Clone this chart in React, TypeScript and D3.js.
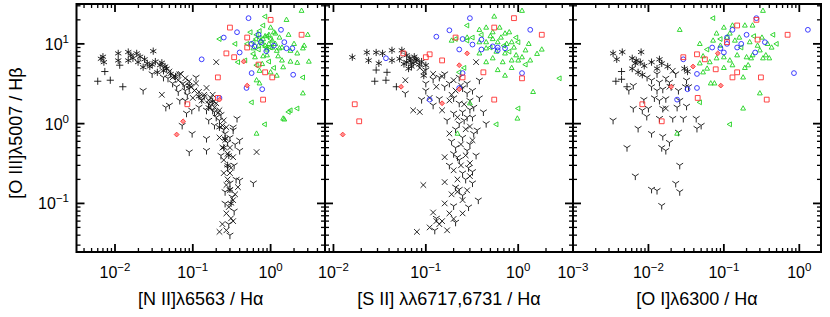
import * as d3 from 'd3';

type Pt = [number, number];

// shared y axis: [O III]5007 / Hbeta
const yDomain: [number, number] = [0.0246, 31.6];

// ---- panel 1: [N II] / Halpha ----
const n2Star: Pt[] = [[0.0066,6.5],[0.0072,5.9],[0.007,6.9],[0.011,7.6],[0.0148,7.9],[0.019,7.6],[0.011,6.2],[0.0148,6.2],[0.0198,5.9],[0.026,5.7],[0.031,8.1],[0.023,5.1],[0.038,5.4],[0.035,4.4],[0.046,4.9],[0.017,6.6],[0.021,6.9],[0.028,5.2],[0.042,4.6],[0.052,4.2],[0.06,3.9],[0.04,5.8],[0.033,6.0],[0.25,0.5],[0.28,0.3],[0.3,0.15],[0.22,0.9],[0.18,1.9],[0.12,2.2],[0.16,1.6],[0.26,0.65],[0.29,0.4],[0.31,0.1],[0.09,3.0],[0.016,7.2],[0.024,6.4],[0.03,5.5],[0.044,5.2]];
const n2Plus: Pt[] = [[0.006,3.4],[0.0087,3.5],[0.0126,2.9],[0.0074,4.5],[0.0115,5.4]];
const n2Cross: Pt[] = [[0.2,5.9],[0.04,2.3],[0.66,0.44],[0.055,3.8],[0.08,3.7],[0.11,3.2],[0.15,2.8],[0.13,1.95],[0.2,1.8],[0.22,1.47],[0.16,1.95],[0.12,2.5],[0.18,2.3],[0.1,2.1],[0.25,1.1],[0.22,0.044],[0.27,0.046],[0.33,0.06],[0.27,0.075],[0.29,0.09],[0.33,0.11],[0.38,0.16],[0.3,0.146],[0.25,0.24],[0.3,0.24],[0.25,0.35],[0.33,0.38],[0.24,0.5],[0.3,0.5],[0.22,0.67],[0.27,0.9],[0.07,4.2],[0.09,3.4],[0.28,0.2],[0.35,0.13],[0.05,4.5],[0.065,3.5],[0.095,2.9],[0.105,2.6],[0.14,2.3],[0.17,2.1],[0.19,1.6],[0.21,1.35],[0.24,0.95],[0.26,0.62],[0.28,0.42],[0.31,0.28],[0.27,0.17],[0.31,0.065],[0.24,0.055]];
const n2Tri: Pt[] = [[0.023,2.6],[0.05,1.7],[0.073,0.95],[0.098,0.75],[0.15,0.65],[0.09,0.44],[0.15,0.46],[0.37,1.16],[0.33,0.9],[0.6,0.18],[0.068,4.2],[0.062,2.9],[0.08,2.6],[0.12,1.6],[0.15,1.47],[0.2,1.2],[0.083,1.35],[0.097,1.47],[0.068,1.95],[0.08,1.95],[0.3,0.04],[0.4,0.195],[0.4,0.46],[0.3,0.67],[0.33,0.83],[0.4,0.62],[0.048,3.7],[0.042,3.8],[0.055,3.2],[0.075,3.2],[0.11,3.8],[0.18,1.47],[0.14,2.2],[0.17,1.7],[0.23,1.3],[0.26,0.75],[0.35,0.55],[0.28,0.28],[0.36,0.2],[0.32,0.12],[0.26,0.1],[0.045,1.6],[0.03,4.2],[0.085,2.3],[0.065,2.5],[0.16,1.1],[0.19,0.95],[0.058,4.0],[0.078,3.0],[0.09,2.75],[0.13,2.0],[0.16,1.8],[0.19,1.4],[0.22,1.1],[0.25,0.85],[0.28,0.58],[0.23,0.4],[0.34,0.3],[0.3,0.18],[0.26,0.14],[0.34,0.08],[0.29,0.055]];
const n2Square: Pt[] = [[0.3,16],[0.27,7.6],[0.34,6.8],[0.5,9],[0.5,12],[1.0,20],[0.7,5.5],[0.85,4.4],[1.05,3.8],[0.8,2.0],[0.21,3.8],[0.21,2.1],[2.5,13],[0.085,1.75]];
const n2Diamond: Pt[] = [[0.062,0.73],[0.075,1.07],[0.5,3.0],[0.45,6.0],[0.22,2.0]];
const n2Circle: Pt[] = [[0.13,6.4],[0.25,12],[0.37,14],[0.4,7.8],[0.52,21],[0.57,10],[0.62,9.3],[0.7,13],[0.57,4.3],[0.49,2.8],[0.78,2.7],[1.36,15],[1.5,10.5],[1.6,8.8],[1.9,8.8],[1.95,4.1],[0.22,2.1],[0.88,8.1],[0.75,10.5],[1.1,9.5]];
const n2TriUp: Pt[] = [[1.6,20],[2.5,26],[1.0,16],[1.1,14],[0.8,11.5],[1.05,11],[0.63,6.8],[0.78,5.6],[0.9,7.2],[1.2,8.2],[1.4,9],[1.8,8.2],[2.6,8.8],[1.4,6.2],[1.8,6.0],[2.2,5.8],[3.1,6],[1.45,5.1],[0.72,4.6],[1.0,4.4],[1.2,4.0],[0.66,3.5],[0.72,3.2],[2.6,2.4],[1.45,1.16],[1.5,1.13],[0.66,0.75],[2.2,7.6],[1.3,12],[0.95,13],[1.15,10],[0.85,9.5],[1.25,7.0],[2.0,10],[2.7,9.5],[1.7,13],[3.0,13],[0.75,11],[0.85,12.5],[0.95,10],[1.05,9],[0.7,9.5],[0.9,8.5],[1.3,8.8],[1.15,13.5],[0.6,8.8],[0.8,7.0]];
const n2TriLeft: Pt[] = [[0.85,22],[0.8,17],[0.55,14],[0.66,13],[0.72,12],[0.6,10.5],[0.5,10],[0.35,10],[0.22,11.5],[0.38,5.9],[0.47,6.2],[0.66,5.4],[0.57,1.85],[1.8,1.47],[2.2,1.55],[2.6,3.8],[1.7,1.4],[0.84,0.98],[0.9,12.5],[0.7,8.5],[1.0,9.0],[0.95,6.0],[0.6,7.5],[1.1,5.0],[0.65,11.5],[0.78,10],[1.0,11.5],[0.72,14.5],[0.88,9]];

// ---- panel 2: [S II] / Halpha ----
const s2Star: Pt[] = [[0.016,6.8],[0.023,7.8],[0.029,7.8],[0.034,7.6],[0.043,8.3],[0.055,8.3],[0.024,6.2],[0.031,5.7],[0.043,6.2],[0.062,5.9],[0.067,6.6],[0.073,5.7],[0.08,6.2],[0.062,7.2],[0.07,5.2],[0.075,6.9],[0.085,5.5],[0.052,6.5],[0.058,5.6],[0.09,6.0],[0.065,4.9],[0.1,5.4],[0.095,4.0],[0.078,6.4],[0.068,6.1]];
const s2Plus: Pt[] = [[0.029,4.7],[0.038,4.4],[0.028,3.4],[0.037,3.5],[0.048,2.9]];
const s2Cross: Pt[] = [[0.06,3.5],[0.073,1.47],[0.086,1.4],[0.094,0.17],[0.12,0.077],[0.08,0.044],[0.13,0.06],[0.17,0.046],[0.25,0.075],[0.35,5.9],[0.086,5.0],[0.12,4.2],[0.2,3.5],[0.13,2.9],[0.21,2.6],[0.11,2.1],[0.18,1.95],[0.15,1.47],[0.3,0.92],[0.18,0.75],[0.32,0.62],[0.16,0.38],[0.3,0.32],[0.2,0.26],[0.16,0.185],[0.28,0.146],[0.19,0.13],[0.16,0.1],[0.15,0.06],[0.2,0.064],[0.14,0.055],[0.22,0.2],[0.25,0.11],[0.095,4.5],[0.15,3.9],[0.24,3.0],[0.19,2.3],[0.26,1.75],[0.22,1.2],[0.27,0.85],[0.24,0.55],[0.27,0.4],[0.24,0.3],[0.3,0.22],[0.22,0.14],[0.18,0.075],[0.11,0.05]];
const s2Tri: Pt[] = [[0.1,4.7],[0.14,3.8],[0.16,4.2],[0.23,3.8],[0.28,3.2],[0.1,3.2],[0.16,2.9],[0.28,2.4],[0.32,2.6],[0.14,2.05],[0.23,1.8],[0.3,1.95],[0.38,2.1],[0.2,1.35],[0.25,1.4],[0.32,1.2],[0.38,3.5],[0.23,1.0],[0.36,0.83],[0.25,0.67],[0.21,0.5],[0.28,0.46],[0.23,0.35],[0.25,0.24],[0.21,0.16],[0.32,0.18],[0.25,0.126],[0.37,0.11],[0.2,0.093],[0.125,0.046],[0.12,1.7],[0.17,1.1],[0.26,1.1],[0.33,0.75],[0.19,0.6],[0.35,0.4],[0.29,0.28],[0.22,0.38],[0.27,0.2],[0.18,0.3],[0.1,2.6],[0.06,2.4],[0.09,2.0],[0.42,1.4],[0.45,1.0],[0.3,1.5],[0.12,3.6],[0.18,3.2],[0.25,2.8],[0.2,2.1],[0.33,1.6],[0.28,1.2],[0.21,0.85],[0.3,0.55],[0.2,0.42],[0.32,0.25],[0.23,0.15],[0.29,0.09],[0.13,0.065],[0.21,0.058]];
const s2Square: Pt[] = [[0.017,1.75],[0.019,1.07],[0.057,7.6],[0.11,7.4],[0.1,6.8],[0.15,6.2],[0.21,12],[0.25,3.8],[0.42,4.4],[0.55,16],[0.9,21],[1.1,3.7],[0.55,2.0],[1.8,13]];
const s2Diamond: Pt[] = [[0.0126,0.73],[0.054,2.9],[0.28,7.6],[0.15,1.8],[0.23,5.4],[0.23,2.7]];
const s2Circle: Pt[] = [[0.037,6.6],[0.13,12.3],[0.18,14.8],[0.3,21],[0.25,11.5],[0.23,8.5],[0.32,9.8],[0.4,8.5],[0.53,9.3],[0.6,9],[0.72,8.8],[0.4,11.3],[1.35,15],[1.1,4.3],[0.25,4.3],[0.23,2.8],[0.11,2.0],[0.6,8.3]];
const s2TriUp: Pt[] = [[1.1,26],[0.55,22],[0.38,15],[0.45,16],[0.53,14],[0.63,16],[0.72,13.5],[0.8,14],[0.19,11],[0.38,10.5],[0.45,10.5],[0.53,11.5],[0.6,10.5],[0.75,10],[0.85,10.5],[1.2,8.3],[0.45,8.8],[0.58,8],[0.72,7.6],[0.95,7.2],[1.1,6.8],[0.38,7.6],[0.45,5.9],[0.53,6.6],[0.68,5.9],[0.85,6.2],[1.0,6.2],[0.6,4.7],[0.85,5.0],[0.72,4.0],[1.35,6.2],[1.45,2.5],[0.98,1.16],[0.3,1.8],[0.22,0.75],[1.6,7.5],[0.5,12.5],[0.65,12],[0.9,9],[1.3,10],[1.8,8.5],[0.28,12]];
const s2TriLeft: Pt[] = [[0.28,17],[0.21,11.5],[0.28,11],[0.32,12],[1.0,10.5],[2.8,3.7],[1.0,1.55],[0.58,0.98],[0.26,5.0],[0.23,4.4],[0.7,9.5],[0.5,9.0],[0.4,13],[0.95,12],[1.2,5.5],[0.8,8.0]];

// ---- panel 3: [O I] / Halpha ----
const o1Star: Pt[] = [[0.0034,7.6],[0.0045,7.9],[0.008,7.9],[0.0038,6.4],[0.0061,6.6],[0.0067,5.7],[0.0078,5.9],[0.0073,4.4],[0.0083,4.1],[0.011,5.9],[0.014,6.4],[0.015,5.7],[0.013,4.9],[0.018,5.2],[0.03,4.9],[0.033,4.5],[0.0061,4.9],[0.0069,6.2],[0.0088,5.3]];
const o1Plus: Pt[] = [[0.0044,4.5],[0.0037,3.4],[0.0044,3.6],[0.0052,2.9]];
const o1Cross: Pt[] = [[0.019,2.9],[0.017,1.55],[0.021,4.6]];
const o1Tri: Pt[] = [[0.0055,2.6],[0.0063,3.0],[0.0034,1.1],[0.0063,1.55],[0.01,1.55],[0.0087,2.0],[0.0095,1.23],[0.0073,0.87],[0.011,0.75],[0.0052,0.5],[0.0155,0.69],[0.015,0.5],[0.019,0.58],[0.017,0.46],[0.025,0.78],[0.044,0.87],[0.05,0.95],[0.043,1.16],[0.029,1.16],[0.021,1.16],[0.014,1.16],[0.0067,0.22],[0.011,0.15],[0.013,0.145],[0.015,0.094],[0.023,0.178],[0.026,0.14],[0.026,0.3],[0.0096,3.8],[0.011,3.5],[0.013,4.2],[0.014,3.3],[0.017,3.7],[0.019,3.3],[0.023,4.2],[0.011,2.9],[0.013,2.6],[0.0155,2.7],[0.012,2.1],[0.014,1.95],[0.017,2.05],[0.02,2.9],[0.025,2.6],[0.026,1.95],[0.032,1.65],[0.031,2.9],[0.034,2.9],[0.032,3.5],[0.024,1.6],[0.0155,1.55],[0.0083,1.47]];
const o1Square: Pt[] = [[0.0083,1.75],[0.015,1.07],[0.044,7.4],[0.056,6.4],[0.078,4.8],[0.045,2.1],[0.15,17],[0.11,10.5],[0.15,4.4],[0.13,3.8],[0.27,20],[0.28,11.3],[0.31,3.8],[0.37,2.0],[0.7,13],[0.029,6.8]];
const o1Diamond: Pt[] = [[0.039,5.2],[0.083,7.6],[0.091,3.0],[0.02,2.9]];
const o1Circle: Pt[] = [[0.029,6.4],[0.044,4.2],[0.044,2.8],[0.033,2.7],[0.024,2.0],[0.07,9],[0.09,8.8],[0.1,7.8],[0.11,10],[0.13,15],[0.17,10],[0.15,9],[0.2,13],[0.27,21],[0.26,7.8],[0.35,10.5],[1.3,15],[0.85,4.3],[0.11,12]];
const o1TriUp: Pt[] = [[0.33,26],[0.026,15],[0.048,10],[0.072,11],[0.08,13.5],[0.1,16],[0.11,12],[0.12,13.5],[0.13,17],[0.16,12],[0.19,17],[0.24,17],[0.22,10.5],[0.28,9.5],[0.32,12],[0.38,10],[0.43,9],[0.3,8.3],[0.24,7.2],[0.2,6.8],[0.15,7.2],[0.12,6.2],[0.1,6.8],[0.08,6.6],[0.065,5.9],[0.053,7.0],[0.048,5.7],[0.06,4.9],[0.053,4.4],[0.19,5.0],[0.21,5.4],[0.23,6.6],[0.33,6.6],[0.36,7.2],[0.4,6.6],[0.18,3.8],[0.067,3.2],[0.075,3.2],[0.3,2.4],[0.18,1.55],[0.024,0.75],[0.13,5.4],[0.1,5.0],[0.14,11],[0.09,9.5]];
const o1TriLeft: Pt[] = [[0.072,21],[0.45,13],[0.048,1.85],[0.12,0.98],[0.09,11.5],[0.17,9],[0.06,8.5],[0.25,12.5],[0.5,10]];

const W = 830;
const H = 317;
const TOP = 4;
const BOTTOM = 252;
const FONT = "'Liberation Sans', Arial, Helvetica, sans-serif";
const BLACK = '#111';
const RED = '#ff3030';
const BLUE = '#2828ff';
const GREEN = '#1ed21e';

const sym: Record<string, string> = {
  star: 'M0,-3.6L0,3.6M-3.1,-1.8L3.1,1.8M-3.1,1.8L3.1,-1.8',
  plus: 'M-3.6,0L3.6,0M0,-3.6L0,3.6',
  cross: 'M-2.8,-2.8L2.8,2.8M-2.8,2.8L2.8,-2.8',
  tri: 'M0,0L0,4M0,0L-3.4,-2.2M0,0L3.4,-2.2',
  square: 'M-2.4,-2.4h4.8v4.8h-4.8z',
  diamond: 'M0,-2.4L2.4,0L0,2.4L-2.4,0Z',
  triUp: 'M0,-2.7L2.4,1.6L-2.4,1.6Z',
  triLeft: 'M-2.7,0L1.6,-2.4L1.6,2.4Z',
};

type Layer = { pts: Pt[]; shape: string; color: string; fill?: string };

const panels = [
  {
    id: 'n2',
    label: '[N II]λ6563 / Hα',
    domain: [0.0032, 5.0] as [number, number],
    range: [76.5, 325] as [number, number],
    layers: [
      { pts: n2Star, shape: 'star', color: BLACK },
      { pts: n2Plus, shape: 'plus', color: BLACK },
      { pts: n2Cross, shape: 'cross', color: BLACK },
      { pts: n2Tri, shape: 'tri', color: BLACK },
      { pts: n2TriUp, shape: 'triUp', color: GREEN },
      { pts: n2TriLeft, shape: 'triLeft', color: GREEN },
      { pts: n2Circle, shape: 'circle', color: BLUE },
      { pts: n2Square, shape: 'square', color: RED },
      { pts: n2Diamond, shape: 'diamond', color: RED, fill: '#ff9090' },
    ] as Layer[],
  },
  {
    id: 's2',
    label: '[S II] λλ6717,6731 / Hα',
    domain: [0.0081, 3.92] as [number, number],
    range: [325, 573] as [number, number],
    layers: [
      { pts: s2Star, shape: 'star', color: BLACK },
      { pts: s2Plus, shape: 'plus', color: BLACK },
      { pts: s2Cross, shape: 'cross', color: BLACK },
      { pts: s2Tri, shape: 'tri', color: BLACK },
      { pts: s2TriUp, shape: 'triUp', color: GREEN },
      { pts: s2TriLeft, shape: 'triLeft', color: GREEN },
      { pts: s2Circle, shape: 'circle', color: BLUE },
      { pts: s2Square, shape: 'square', color: RED },
      { pts: s2Diamond, shape: 'diamond', color: RED, fill: '#ff9090' },
    ] as Layer[],
  },
  {
    id: 'o1',
    label: '[O I]λ6300 / Hα',
    domain: [0.001, 1.94] as [number, number],
    range: [573, 821] as [number, number],
    layers: [
      { pts: o1Star, shape: 'star', color: BLACK },
      { pts: o1Plus, shape: 'plus', color: BLACK },
      { pts: o1Cross, shape: 'cross', color: BLACK },
      { pts: o1Tri, shape: 'tri', color: BLACK },
      { pts: o1TriUp, shape: 'triUp', color: GREEN },
      { pts: o1TriLeft, shape: 'triLeft', color: GREEN },
      { pts: o1Circle, shape: 'circle', color: BLUE },
      { pts: o1Square, shape: 'square', color: RED },
      { pts: o1Diamond, shape: 'diamond', color: RED, fill: '#ff9090' },
    ] as Layer[],
  },
];

// powers of ten and their 2..9 multiples inside a domain
function logTicks(domain: [number, number]) {
  const major: number[] = [];
  const minor: number[] = [];
  const lo = Math.floor(Math.log10(domain[0]));
  const hi = Math.ceil(Math.log10(domain[1]));
  for (let e = lo; e <= hi; e++) {
    for (let k = 1; k < 10; k++) {
      const v = k * Math.pow(10, e);
      if (v < domain[0] * 0.999 || v > domain[1] * 1.001) continue;
      (k === 1 ? major : minor).push(v);
    }
  }
  return { major, minor };
}

function PowLabel({ x, y, v, anchor }: { x: number; y: number; v: number; anchor: string }) {
  const e = Math.round(Math.log10(v));
  const s = e < 0 ? '\u2212' + Math.abs(e) : String(e);
  return (
    <text x={x} y={y} textAnchor={anchor} fontSize={16} fontFamily={FONT} fill="#000">
      10
      <tspan dy={-7} fontSize={11.5}>{s}</tspan>
    </text>
  );
}

function Panel({ p, idx }: { p: (typeof panels)[number]; idx: number }) {
  const x = d3.scaleLog().domain(p.domain).range(p.range);
  const y = d3.scaleLog().domain(yDomain).range([BOTTOM, TOP]);
  const xt = logTicks(p.domain);
  const yt = logTicks(yDomain);
  const [x0, x1] = p.range;
  const tk = { stroke: '#000', strokeWidth: 1.3 };
  return (
    <g>
      <clipPath id={'clip-' + p.id}>
        <rect x={x0} y={TOP} width={x1 - x0} height={BOTTOM - TOP} />
      </clipPath>
      <g clipPath={`url(#clip-${p.id})`}>
        {p.layers.map((l, li) =>
          l.pts.map((d, i) =>
            l.shape === 'circle' ? (
              <circle key={li + '-' + i} cx={x(d[0])} cy={y(d[1])} r={2.4} fill="none" stroke={l.color} strokeWidth={0.9} />
            ) : (
              <path
                key={li + '-' + i}
                transform={`translate(${x(d[0])},${y(d[1])})`}
                d={sym[l.shape]}
                fill={l.fill ?? 'none'}
                stroke={l.color}
                strokeWidth={0.9}
              />
            )
          )
        )}
      </g>
      {/* x ticks, bottom and top */}
      {xt.minor.map((v) => (
        <g key={'xm' + v}>
          <line x1={x(v)} x2={x(v)} y1={BOTTOM} y2={BOTTOM - 4} {...tk} />
          <line x1={x(v)} x2={x(v)} y1={TOP} y2={TOP + 4} {...tk} />
        </g>
      ))}
      {xt.major.map((v) => (
        <g key={'xM' + v}>
          <line x1={x(v)} x2={x(v)} y1={BOTTOM} y2={BOTTOM - 8} {...tk} strokeWidth={1.8} />
          <line x1={x(v)} x2={x(v)} y1={TOP} y2={TOP + 8} {...tk} strokeWidth={1.8} />
          <PowLabel x={x(v)} y={278} v={v} anchor="middle" />
        </g>
      ))}
      {/* y ticks, left and right */}
      {yt.minor.map((v) => (
        <g key={'ym' + v}>
          <line x1={x0} x2={x0 + 4} y1={y(v)} y2={y(v)} {...tk} />
          <line x1={x1} x2={x1 - 4} y1={y(v)} y2={y(v)} {...tk} />
        </g>
      ))}
      {yt.major.map((v) => (
        <g key={'yM' + v}>
          <line x1={x0} x2={x0 + 8} y1={y(v)} y2={y(v)} {...tk} strokeWidth={1.8} />
          <line x1={x1} x2={x1 - 8} y1={y(v)} y2={y(v)} {...tk} strokeWidth={1.8} />
          {idx === 0 && <PowLabel x={69} y={y(v) + 6} v={v} anchor="end" />}
        </g>
      ))}
      <rect x={x0} y={TOP} width={x1 - x0} height={BOTTOM - TOP} fill="none" stroke="#000" strokeWidth={2} />
      <text x={(x0 + x1) / 2} y={305} textAnchor="middle" fontSize={18} fontFamily={FONT} fill="#000">
        {p.label}
      </text>
    </g>
  );
}

export default function App() {
  return (
    <svg width={W} height={H} style={{ position: 'absolute', left: 0, top: 0, background: '#fff' }}>
      <rect width={W} height={H} fill="#fff" />
      {panels.map((p, i) => (
        <Panel key={p.id} p={p} idx={i} />
      ))}
      <text
        transform={`translate(22,${(TOP + BOTTOM) / 2 + 5}) rotate(-90)`}
        textAnchor="middle"
        fontSize={18}
        fontFamily={FONT}
        fill="#000"
      >
        [O III]λ5007 / Hβ
      </text>
    </svg>
  );
}
